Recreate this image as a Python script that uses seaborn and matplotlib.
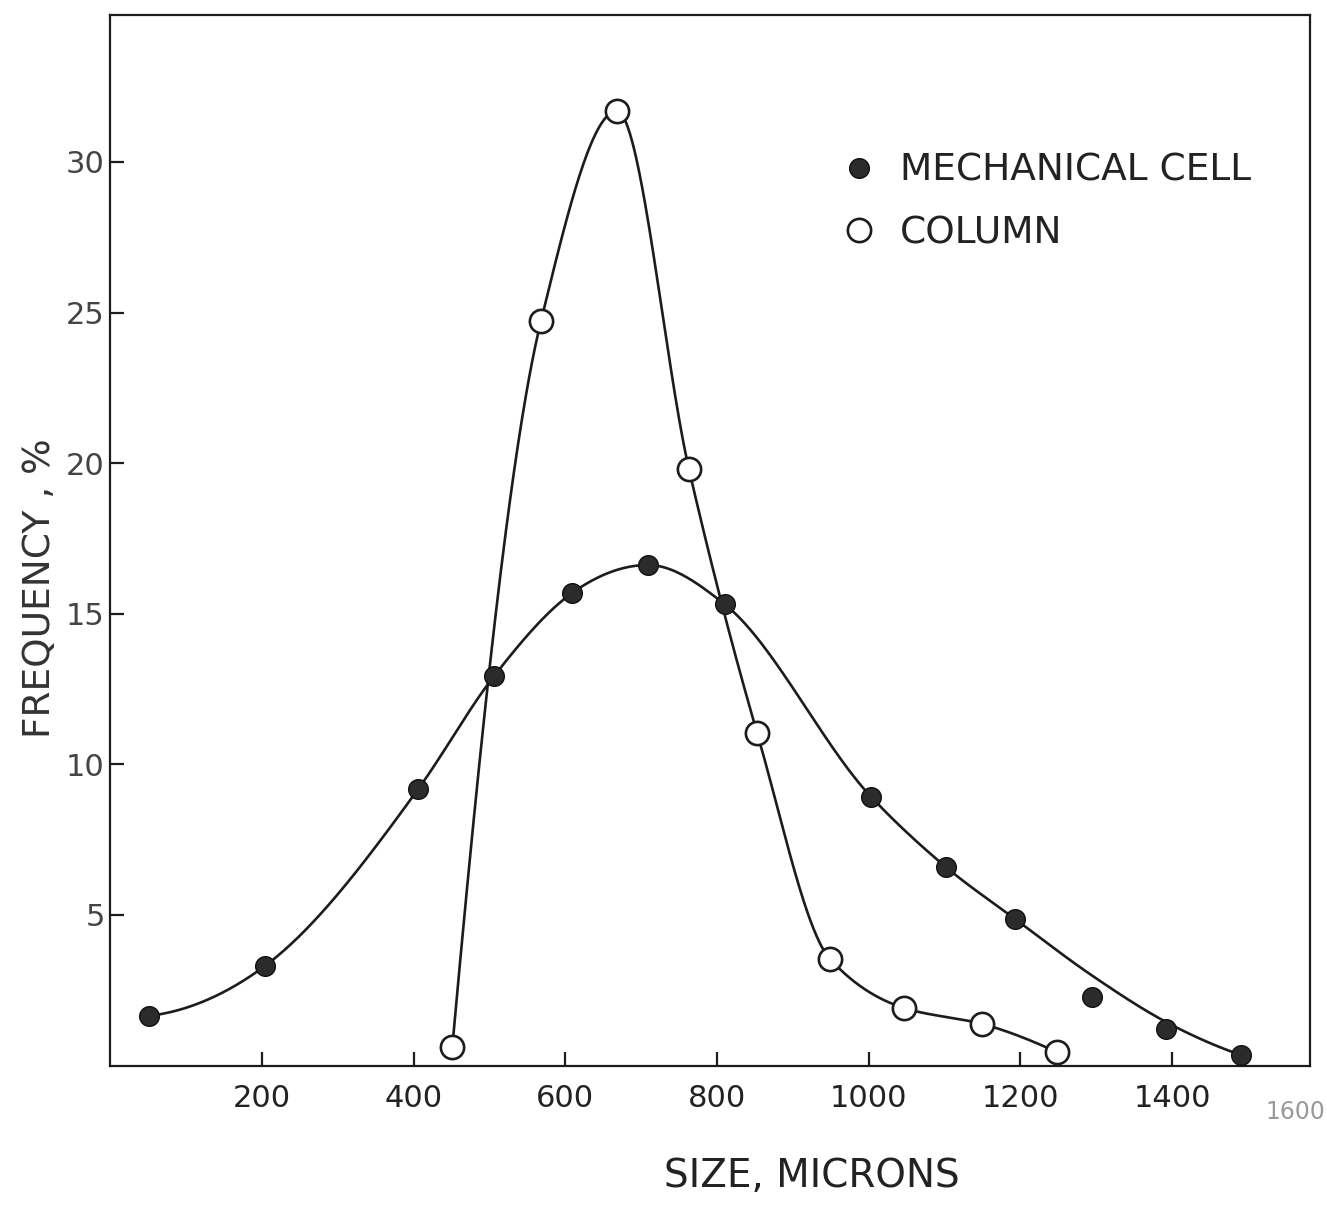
import numpy as np
import pandas as pd
import matplotlib
matplotlib.use("Agg")
import matplotlib.pyplot as plt
import seaborn as sns

# values
mech_size = [51, 204, 406, 506, 609, 709, 810, 1003, 1102, 1193, 1294, 1392, 1491]
mech_freq = [1.65, 3.31, 9.18, 12.93, 15.69, 16.62, 15.32, 8.93, 6.59, 4.87, 2.28, 1.22, 0.35]
# the hand-drawn curve runs a little above the last points
mech_curve_freq = [1.65, 3.31, 9.18, 12.93, 15.69, 16.62, 15.32, 8.93, 6.59, 4.87, 3.0, 1.45, 0.35]

col_size = [451, 568, 668, 763, 853, 949, 1047, 1150, 1248]
col_freq = [0.62, 24.73, 31.69, 19.81, 11.04, 3.54, 1.91, 1.38, 0.45]

x_ticks = [200, 400, 600, 800, 1000, 1200, 1400]
y_ticks = [5, 10, 15, 20, 25, 30]


def smooth_curve(x, y, monotone=False, n=600):
    # cubic hermite through the points (a french-curve look);
    # flat tangent at peaks, harmonic tangents when monotone=True
    x = np.asarray(x, float)
    y = np.asarray(y, float)
    h = np.diff(x)
    delta = np.diff(y) / h
    d = np.zeros_like(y)
    for k in range(1, len(x) - 1):
        a, b = delta[k - 1], delta[k]
        if a * b <= 0:
            continue
        if monotone:
            w1 = 2 * h[k] + h[k - 1]
            w2 = h[k] + 2 * h[k - 1]
            d[k] = (w1 + w2) / (w1 / a + w2 / b)
        else:
            d[k] = (a * h[k] + b * h[k - 1]) / (h[k - 1] + h[k])
    d[0] = ((2 * h[0] + h[1]) * delta[0] - h[0] * delta[1]) / (h[0] + h[1])
    d[-1] = ((2 * h[-1] + h[-2]) * delta[-1] - h[-1] * delta[-2]) / (h[-1] + h[-2])
    if d[-1] * delta[-1] < 0:
        d[-1] = 0.0
    xs = np.linspace(x[0], x[-1], n)
    k = np.clip(np.searchsorted(x, xs) - 1, 0, len(h) - 1)
    t = (xs - x[k]) / h[k]
    h00 = 2 * t**3 - 3 * t**2 + 1
    h10 = t**3 - 2 * t**2 + t
    h01 = -2 * t**3 + 3 * t**2
    h11 = t**3 - t**2
    ys = h00 * y[k] + h10 * h[k] * d[k] + h01 * y[k + 1] + h11 * h[k] * d[k + 1]
    return xs, ys


sns.set_style("ticks")
plt.rcParams["font.family"] = ["DejaVu Sans"]
ink = "#1c1c1c"

fig = plt.figure(figsize=(13.27, 12.09), dpi=100)
W, H = 1327, 1209
ax = fig.add_axes([110.3 / W, 1 - 1065.6 / H, (1310 - 110.3) / W, (1065.6 - 15) / H])

mx, my = smooth_curve(mech_size, mech_curve_freq)
cx, cy = smooth_curve(col_size, col_freq, monotone=True)
sns.lineplot(x=mx, y=my, sort=False, estimator=None, color=ink, lw=1.9, ax=ax)
sns.lineplot(x=cx, y=cy, sort=False, estimator=None, color=ink, lw=1.9, ax=ax)

mech = pd.DataFrame({"size": mech_size, "freq": mech_freq})
col = pd.DataFrame({"size": col_size, "freq": col_freq})
sns.scatterplot(data=mech, x="size", y="freq", s=200, color="#2b2b2b",
                edgecolor="#111111", linewidth=1.0, zorder=3, ax=ax,
                label="MECHANICAL CELL")
sns.scatterplot(data=col, x="size", y="freq", s=280, color="white",
                edgecolor=ink, linewidth=1.9, zorder=3, ax=ax, label="COLUMN")

ax.set_xlim(0, 1582)
ax.set_ylim(0, 34.88)
ax.set_xticks(x_ticks)
ax.set_yticks(y_ticks)
ax.tick_params(axis="both", direction="in", length=10, width=1.6, colors=ink)
ax.tick_params(axis="x", pad=13, labelsize=22, labelcolor="#222222")
ax.tick_params(axis="y", pad=4, labelsize=22, labelcolor="#444444")
for s in ax.spines.values():
    s.set_linewidth(1.6)
    s.set_color(ink)

# 1600 label sits just past the frame, at the page edge
fig.text(1325 / W, 1 - 1112 / H, "1600", ha="right", va="center",
         fontsize=17, color="#999999")

ax.set_xlabel("")
ax.set_ylabel("")
fig.text(812 / W, 1 - 1176 / H, "SIZE, MICRONS", ha="center", va="center",
         fontsize=28, color="#222222")
fig.text(40 / W, 1 - 588 / H, "FREQUENCY , %", ha="center", va="center",
         rotation=90, fontsize=27, color="#333333")

ax.legend(loc="upper left", bbox_to_anchor=(0.6095, 0.869), frameon=False,
          fontsize=27, handlelength=0.95, handletextpad=0.6, labelspacing=0.71,
          borderpad=0, borderaxespad=0, scatterpoints=1, scatteryoffsets=[0.5],
          labelcolor="#222222")

fig.savefig("out.png", dpi=100)
